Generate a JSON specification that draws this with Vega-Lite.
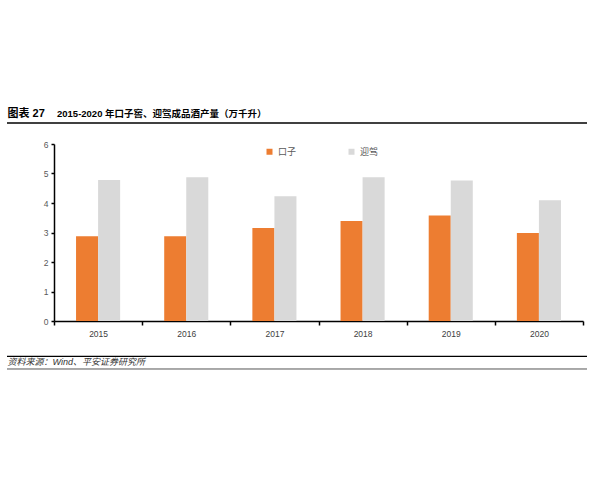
{
  "$schema": "https://vega.github.io/schema/vega-lite/v6.json",
  "width": 580,
  "height": 177,
  "autosize": "none",
  "padding": {"left": 7, "top": 144, "right": 13, "bottom": 159},
  "background": "white",
  "config": {
    "font": "Liberation Sans, Noto Sans CJK SC",
    "view": {"stroke": null}
  },
  "title": {
    "text": "2015-2020 年口子窖、迎驾成品酒产量（万千升）",
    "anchor": "start",
    "frame": "group",
    "offset": 0,
    "dx": 50,
    "dy": 16,
    "fontSize": 9.5,
    "fontWeight": "bold",
    "color": "#000000",
    "baseline": "middle"
  },
  "data": {
    "values": [
      {"year": "2015", "brand": "口子", "value": 2.87},
      {"year": "2015", "brand": "迎驾", "value": 4.78},
      {"year": "2016", "brand": "口子", "value": 2.87},
      {"year": "2016", "brand": "迎驾", "value": 4.87},
      {"year": "2017", "brand": "口子", "value": 3.15},
      {"year": "2017", "brand": "迎驾", "value": 4.23},
      {"year": "2018", "brand": "口子", "value": 3.39},
      {"year": "2018", "brand": "迎驾", "value": 4.87},
      {"year": "2019", "brand": "口子", "value": 3.58},
      {"year": "2019", "brand": "迎驾", "value": 4.76},
      {"year": "2020", "brand": "口子", "value": 2.98},
      {"year": "2020", "brand": "迎驾", "value": 4.09}
    ]
  },
  "layer": [
    {
      "mark": {"type": "bar"},
      "encoding": {
        "x": {
          "field": "year",
          "type": "ordinal",
          "scale": {"range": [47, 576], "paddingInner": 0, "paddingOuter": 0},
          "axis": {
            "tickBand": "extent",
            "domainColor": "#000000",
            "domainWidth": 1.5,
            "tickColor": "#000000",
            "tickWidth": 1.5,
            "tickSize": 4,
            "labelAngle": 0,
            "labelPadding": 4,
            "labelFontSize": 8.5,
            "labelColor": "#404040",
            "title": "资料来源：Wind、平安证券研究所",
            "titleX": 0,
            "titleY": 40,
            "titleAlign": "left",
            "titleAnchor": "start",
            "titleBaseline": "middle",
            "titleFontSize": 9,
            "titleFontWeight": "normal",
            "titleFontStyle": "italic",
            "titleColor": "#333333"
          }
        },
        "xOffset": {
          "field": "brand",
          "type": "nominal",
          "sort": ["口子", "迎驾"],
          "scale": {"paddingInner": 0, "paddingOuter": 1.15}
        },
        "y": {
          "field": "value",
          "type": "quantitative",
          "scale": {"domain": [0, 6], "nice": false},
          "axis": {
            "offset": -47,
            "values": [0, 1, 2, 3, 4, 5, 6],
            "tickCount": 7,
            "labelOverlap": false,
            "grid": false,
            "domainColor": "#000000",
            "domainWidth": 1.5,
            "tickColor": "#000000",
            "tickWidth": 1.5,
            "tickSize": 3,
            "labelPadding": 3,
            "labelFontSize": 8.5,
            "labelColor": "#595959",
            "title": "图表 27",
            "titleAngle": 0,
            "titleAlign": "left",
            "titleBaseline": "middle",
            "titleX": -47,
            "titleY": -31,
            "titleFontSize": 11,
            "titleFontWeight": "bold",
            "titleColor": "#000000"
          }
        },
        "color": {
          "field": "brand",
          "type": "nominal",
          "scale": {"domain": ["口子", "迎驾"], "range": ["#ED7D31", "#D9D9D9"]},
          "legend": {
            "orient": "none",
            "legendX": 258,
            "legendY": 3,
            "direction": "horizontal",
            "title": null,
            "symbolType": "square",
            "symbolSize": 36,
            "symbolStrokeWidth": 0,
            "labelFontSize": 9,
            "labelColor": "#595959",
            "labelOffset": 4,
            "columnPadding": 50
          }
        }
      }
    },
    {
      "data": {"values": [{"line": "title"}]},
      "mark": {"type": "rule", "stroke": "#000000", "strokeWidth": 1.5},
      "encoding": {"y": {"datum": 6.71, "axis": {"values": [0, 1, 2, 3, 4, 5, 6], "tickCount": 7, "labelOverlap": false}}}
    },
    {
      "data": {"values": [{"line": "footer-top"}]},
      "mark": {"type": "rule", "stroke": "#000000", "strokeWidth": 1.2},
      "encoding": {"y": {"datum": -1.2, "axis": {"values": [0, 1, 2, 3, 4, 5, 6], "tickCount": 7, "labelOverlap": false}}}
    },
    {
      "data": {"values": [{"line": "footer-bottom"}]},
      "mark": {"type": "rule", "stroke": "#555555", "strokeWidth": 1},
      "encoding": {"y": {"datum": -1.627, "axis": {"values": [0, 1, 2, 3, 4, 5, 6], "tickCount": 7, "labelOverlap": false}}}
    }
  ]
}
